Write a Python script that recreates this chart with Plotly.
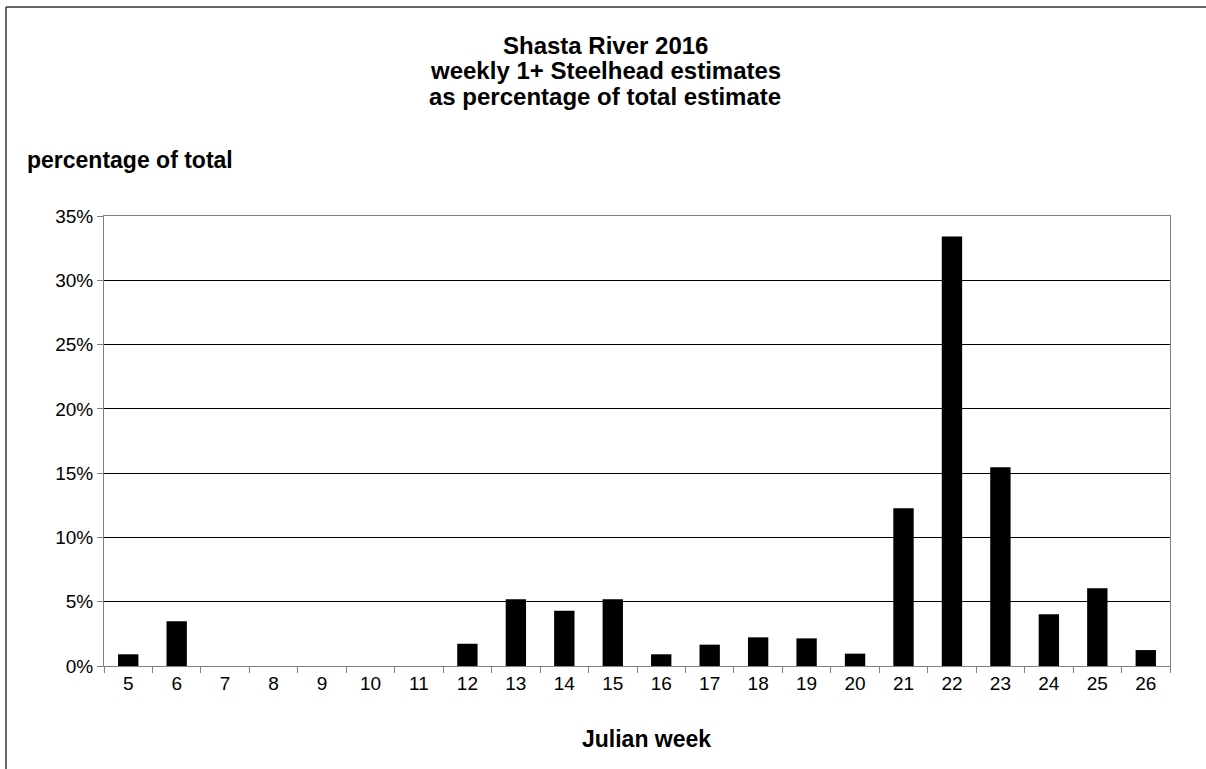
import plotly.graph_objects as go

weeks = [str(w) for w in range(5, 27)]
pct = [0.91, 3.48, 0, 0, 0, 0, 0, 1.73, 5.19, 4.30, 5.19, 0.91, 1.66, 2.23, 2.15,
       0.96, 12.26, 33.4, 15.45, 4.02, 6.04, 1.24]
y_ticks = [0, 5, 10, 15, 20, 25, 30, 35]
y_labels = [f"{v}%" for v in y_ticks]
title_lines = ["Shasta River 2016", "weekly 1+ Steelhead estimates",
               "as percentage of total estimate"]

W, H = 1206, 769
L, R, T, B = 104, 36, 216, 103
pw, ph = W - L - R, H - T - B


def px_x(x):
    return (x - L) / pw


def px_y(y):
    return (H - B - y) / ph


fig = go.Figure(go.Bar(x=weeks, y=pct, marker=dict(color="black", line=dict(width=0)),
                       width=0.42))

font = "Liberation Sans, Arial, sans-serif"
annotations = []
for i, line in enumerate(title_lines):
    annotations.append(dict(text=f"<b>{line}</b>", xref="paper", yref="paper",
                            x=px_x(605), y=px_y(45 + 25.5 * i), xanchor="center",
                            yanchor="middle", showarrow=False,
                            font=dict(size=24, family=font, color="black")))
annotations += [
    dict(text="<b>percentage of total</b>", xref="paper", yref="paper",
         x=px_x(25), y=px_y(160), xanchor="left", yanchor="middle",
         showarrow=False, font=dict(size=23, family=font)),
    dict(text="<b>Julian week</b>", xref="paper", yref="paper",
         x=px_x(646), y=px_y(739), xanchor="center", yanchor="middle",
         showarrow=False, font=dict(size=23, family=font)),
]

fig.update_layout(
    width=W, height=H,
    margin=dict(l=L, r=R, t=T, b=B),
    paper_bgcolor="white", plot_bgcolor="white",
    showlegend=False,
    font=dict(family=font, size=19, color="black"),
    xaxis=dict(type="category", tickson="boundaries", ticks="outside", ticklen=6,
               tickcolor="#808080", showline=True, linecolor="#808080", linewidth=1,
               mirror=True, showgrid=False, tickfont=dict(size=19), range=[-0.5, 21.5]),
    yaxis=dict(range=[0, 35], tickvals=y_ticks, ticktext=y_labels, ticks="outside",
               ticklen=6, tickcolor="#808080", showline=True, linecolor="#808080",
               mirror=True, showgrid=True, gridcolor="#000000", gridwidth=1,
               zeroline=False, tickfont=dict(size=19)),
    annotations=annotations,
    shapes=[
        dict(type="line", xref="paper", yref="paper",
             x0=px_x(6), x1=px_x(6), y0=px_y(780), y1=px_y(7),
             line=dict(color="#333333", width=1.5), layer="below"),
        dict(type="line", xref="paper", yref="paper",
             x0=px_x(6), x1=px_x(1215), y0=px_y(7), y1=px_y(7),
             line=dict(color="#333333", width=1.5), layer="below"),
    ],
)

fig.write_html("out.html", config={"displayModeBar": False},
               post_script="document.body.style.margin='0px';")
